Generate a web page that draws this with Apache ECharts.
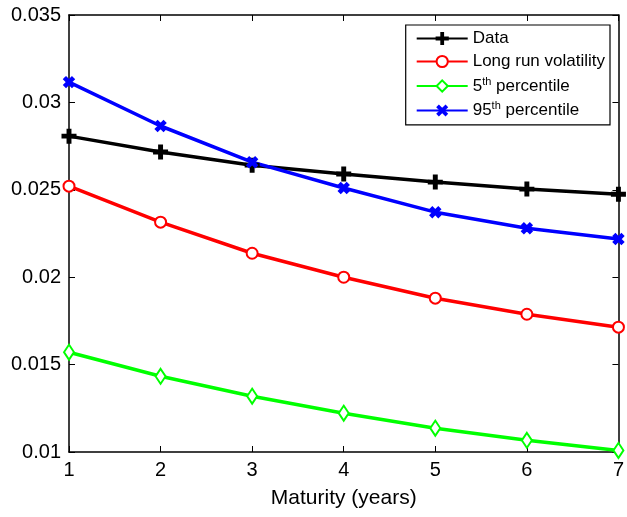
<!DOCTYPE html>
<html>
<head>
<meta charset="utf-8">
<script src="https://cdn.jsdelivr.net/npm/echarts@6/dist/echarts.min.js"></script>
<style>
  html, body { margin: 0; padding: 0; background: #fff; }
  #chart { width: 627px; height: 517px; }
</style>
</head>
<body>
<div id="chart"></div>
<script>
// 到期期限（年）
const maturity = [1, 2, 3, 4, 5, 6, 7]
// 各序列数值
const dataVol = [0.02807, 0.02716, 0.02641, 0.0259, 0.02544, 0.02504, 0.02475]
const longRun = [0.02521, 0.02315, 0.02137, 0.02, 0.0188, 0.01788, 0.01714]
const pct5 = [0.01571, 0.01433, 0.01319, 0.01222, 0.01136, 0.01067, 0.01009]
const pct95 = [0.03116, 0.02865, 0.02658, 0.0251, 0.02372, 0.0228, 0.02218]
// 图例名称
const names = ['Data', 'Long run volatility', '5th percentile', '95th percentile']

const font = 'Liberation Sans, Arial, Helvetica, sans-serif'
// 加号、叉号
const plusPath = 'path://M4.2,0H5.8V4.2H10V5.8H5.8V10H4.2V5.8H0V4.2H4.2Z'

function pairs(vals) {
  return maturity.map((m, i) => [m, vals[i]])
}

function makeSeries(name, vals, color, symbol, size, rotate) {
  return {
    name: name,
    type: 'line',
    data: pairs(vals),
    symbol: symbol,
    symbolSize: size,
    symbolRotate: rotate || 0,
    showAllSymbol: true,
    lineStyle: { color: color, width: 3.5 },
    itemStyle: { color: color, borderColor: color, borderWidth: 3 },
    emphasis: { disabled: true },
    animation: false,
  }
}

const tickStyle = { show: true, inside: true, length: 6, lineStyle: { color: '#000', width: 1 } }
const lineStyle = { show: true, onZero: false, lineStyle: { color: '#000', width: 1.5 } }

const option = {
  backgroundColor: '#fff',
  animation: false,
  grid: { left: 69, right: 6, top: 15, bottom: 65 },
  legend: {
    orient: 'vertical',
    right: 17,
    top: 25,
    itemWidth: 51,
    itemHeight: 14,
    itemGap: 6,
    padding: [5, 5, 5, 10],
    backgroundColor: '#fff',
    borderColor: '#000',
    borderWidth: 1.2,
    data: names,
    textStyle: {
      fontFamily: font,
      fontSize: 17,
      color: '#000',
      rich: {
        sup: { fontSize: 11, verticalAlign: 'top', padding: [0, 0, 9, 0], fontFamily: font, color: '#000' },
      },
    },
    formatter: function (name) {
      if (name === '5th percentile') return '5{sup|th} percentile'
      if (name === '95th percentile') return '95{sup|th} percentile'
      return name
    },
  },
  xAxis: [
    {
      type: 'value',
      min: 1,
      max: 7,
      interval: 1,
      name: 'Maturity (years)',
      nameLocation: 'middle',
      nameGap: 36,
      nameTextStyle: { fontFamily: font, fontSize: 21, color: '#000' },
      axisLine: lineStyle,
      axisTick: tickStyle,
      axisLabel: { fontFamily: font, fontSize: 20, color: '#000', margin: 8 },
      splitLine: { show: false },
    },
    {
      type: 'value',
      position: 'top',
      min: 1,
      max: 7,
      interval: 1,
      axisLine: lineStyle,
      axisTick: tickStyle,
      axisLabel: { show: false },
      splitLine: { show: false },
    },
  ],
  yAxis: [
    {
      type: 'value',
      min: 0.01,
      max: 0.035,
      interval: 0.005,
      axisLine: lineStyle,
      axisTick: tickStyle,
      axisLabel: {
        fontFamily: font,
        fontSize: 20,
        color: '#000',
        margin: 8,
        formatter: function (v) { return String(+v.toFixed(3)) },
      },
      splitLine: { show: false },
    },
    {
      type: 'value',
      position: 'right',
      min: 0.01,
      max: 0.035,
      interval: 0.005,
      axisLine: lineStyle,
      axisTick: tickStyle,
      axisLabel: { show: false },
      splitLine: { show: false },
    },
  ],
  series: [
    makeSeries(names[0], dataVol, '#000000', plusPath, 12),
    makeSeries(names[1], longRun, '#ff0000', 'emptyCircle', 11),
    makeSeries(names[2], pct5, '#00ff00', 'emptyDiamond', [10, 15]),
    makeSeries(names[3], pct95, '#0000ff', plusPath, 10, 45),
  ],
}

echarts.init(document.getElementById('chart')).setOption(option)
</script>
</body>
</html>
